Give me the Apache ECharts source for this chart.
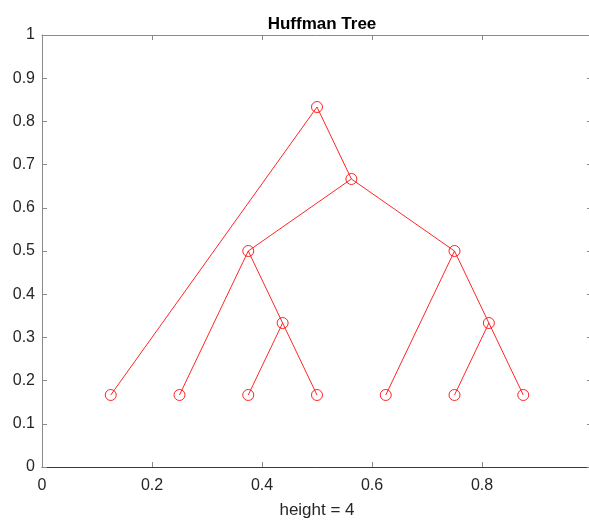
<!DOCTYPE html>
<html>
<head>
<meta charset="utf-8">
<script src="https://cdn.jsdelivr.net/npm/echarts@6/dist/echarts.min.js"></script>
<style>html,body{margin:0;padding:0;background:#fff}#c{width:589px;height:520px}</style>
</head>
<body>
<div id="c"></div>
<script>
// Tree nodes (MATLAB treeplot style) — coordinates
var nodeX = [0.5, 0.125, 0.5625, 0.375, 0.75, 0.25, 0.4375, 0.375, 0.5, 0.625, 0.8125, 0.75, 0.875];
var nodeY = [0.8333, 0.1667, 0.6667, 0.5, 0.5, 0.1667, 0.3333, 0.1667, 0.1667, 0.1667, 0.3333, 0.1667, 0.1667];
var parent = [-1, 0, 0, 2, 2, 3, 3, 6, 6, 4, 4, 10, 10];
var xTicks = [0, 0.2, 0.4, 0.6, 0.8];
var yTicks = [0, 0.1, 0.2, 0.3, 0.4, 0.5, 0.6, 0.7, 0.8, 0.9, 1];
var titleText = 'Huffman Tree';
var xLabel = 'height = 4';

var FONT = '"Liberation Sans", Arial, Helvetica, sans-serif';
var RED = '#ff0000';
var series = [];
for (var i = 0; i < parent.length; i++) {
  if (parent[i] < 0) continue;
  var p = parent[i];
  series.push({
    type: 'line', silent: true, symbol: 'none', animation: false,
    lineStyle: {color: RED, width: 1, opacity: 0.85},
    data: [[nodeX[p], nodeY[p]], [nodeX[i], nodeY[i]]]
  });
}
var pts = nodeX.map(function (x, i) { return [x, nodeY[i]]; });
series.push({
  type: 'scatter', animation: false, symbol: 'circle', symbolSize: 11,
  itemStyle: {color: 'rgba(0,0,0,0)', borderColor: RED, borderWidth: 1, opacity: 0.85},
  data: pts, z: 5
});

function fmtX(v) { return xTicks.some(function (t) { return Math.abs(t - v) < 1e-9; }) ? String(+v.toFixed(1)) : ''; }
function fmtY(v) { return String(+v.toFixed(1)); }

var chart = echarts.init(document.getElementById('c'), null, {renderer: 'canvas'});
chart.setOption({
  backgroundColor: '#fff',
  animation: false,
  title: {
    text: titleText, left: 317, top: 11, textAlign: 'center',
    textStyle: {fontFamily: FONT, fontSize: 17, fontWeight: 'bold', color: '#000'}
  },
  grid: {left: 42, width: 550, top: 35, bottom: 53, containLabel: false, outerBoundsMode: 'none'},
  xAxis: [{
    type: 'value', min: 0, max: 1, interval: 0.2, position: 'bottom',
    name: xLabel, nameLocation: 'middle', nameGap: 35,
    nameTextStyle: {fontFamily: FONT, fontSize: 17, color: '#262626'},
    axisLine: {show: true, onZero: false, lineStyle: {color: '#3a3a3a', width: 1}},
    axisTick: {show: true, inside: true, length: 5, lineStyle: {color: '#8a8a8a'}},
    axisLabel: {fontFamily: FONT, fontSize: 16, color: '#262626', margin: 11, formatter: fmtX},
    splitLine: {show: false}
  }, {
    type: 'value', min: 0, max: 1, interval: 0.2, position: 'top',
    axisLine: {show: true, onZero: false, lineStyle: {color: '#8a8a8a', width: 1}},
    axisTick: {show: true, inside: true, length: 5, lineStyle: {color: '#8a8a8a'}},
    axisLabel: {show: false}, splitLine: {show: false}
  }],
  yAxis: [{
    type: 'value', min: 0, max: 1, interval: 0.1, position: 'left',
    axisLine: {show: true, onZero: false, lineStyle: {color: '#8a8a8a', width: 1}},
    axisTick: {show: true, inside: true, length: 5, lineStyle: {color: '#8a8a8a'}},
    axisLabel: {fontFamily: FONT, fontSize: 16, color: '#262626', margin: 7, formatter: fmtY},
    splitLine: {show: false}
  }, {
    type: 'value', min: 0, max: 1, interval: 0.1, position: 'right',
    axisLine: {show: true, onZero: false, lineStyle: {color: '#8a8a8a', width: 1}},
    axisTick: {show: true, inside: true, length: 5, lineStyle: {color: '#8a8a8a'}},
    axisLabel: {show: false}, splitLine: {show: false}
  }],
  series: series
});
</script>
</body>
</html>
